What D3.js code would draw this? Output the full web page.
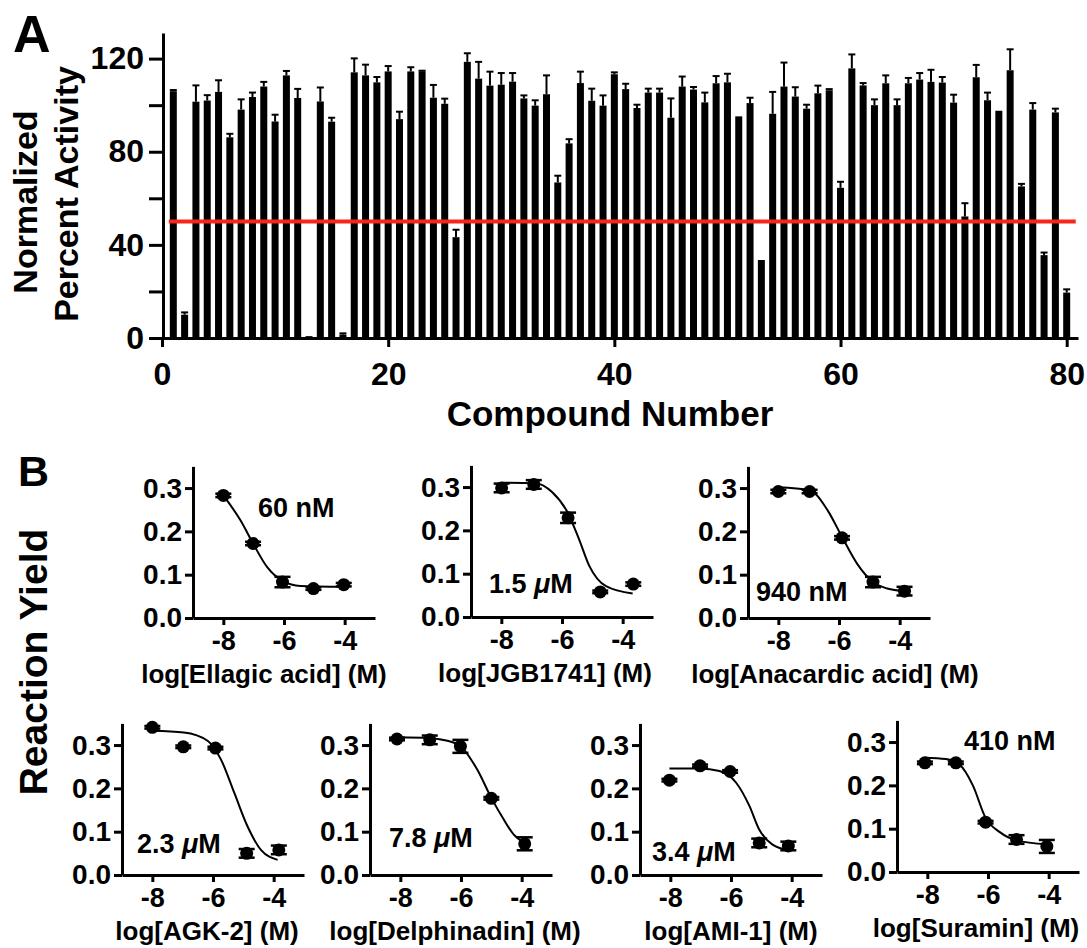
<!DOCTYPE html>
<html>
<head>
<meta charset="utf-8">
<script src="https://cdn.jsdelivr.net/npm/d3@7"></script>
<style>
  body { margin: 0; background: #fff; }
  svg text { font-family: "Liberation Sans", Arial, Helvetica, sans-serif; font-weight: bold; fill: #000; }
</style>
</head>
<body>
<svg id="figure" width="1087" height="948"></svg>
<script>
// ---- Panel A: screening, one bar per compound (compound number = index + 1)
var activity = [
  106, 10, 101.5, 102, 105.7, 86.2, 98.1, 103.5, 108, 93,
  112.8, 103.1, 0.8, 101.6, 92.9, 1.5, 114.1, 112.8, 109.8, 114.5,
  94, 114.5, 114.5, 103.2, 100.6, 43.3, 118.6, 111.4, 108.4, 108.8,
  110.1, 102.9, 99.8, 104.7, 66.8, 83.6, 109.5, 101.9, 99.8, 113.3,
  106.9, 98.8, 105.4, 105.4, 94.6, 108, 106.7, 101.2, 109.4, 109.8,
  95.2, 100.9, 33.5, 96.3, 108, 103.7, 98.5, 105.1, 106.4, 64.5,
  115.8, 108.5, 100, 109.4, 100, 109.4, 111, 110, 109.7, 101.1,
  52.2, 112, 102.1, 97.6, 115, 65.1, 98.1, 35.6, 96.9, 19.5
];
var activityErr = [
  0.5, 1, 7, 2.3, 5, 1.5, 4.4, 1.9, 2, 2.9,
  1.9, 3.9, 0, 6, 1.7, 0.5, 6, 4.6, 2.3, 2.3,
  3.2, 1.8, 0.3, 5.5, 2.2, 3.2, 3.7, 7.2, 6, 5,
  3.7, 1.3, 2.3, 8.1, 2.9, 1.8, 4.9, 5.2, 4.4, 0.8,
  2.3, 1.4, 1.7, 1.7, 8.3, 4.3, 1.1, 4.2, 3.1, 3.7,
  0, 2.3, 0, 9.4, 10.3, 4, 1.7, 3.3, 0.5, 2.6,
  6, 1, 2.5, 3.4, 2.5, 2.3, 2.8, 5.2, 2.4, 3.4,
  5.7, 5.3, 3.3, 0, 9, 1.1, 2.8, 1.1, 1.6, 1.4
];
var cutoff = 50;
var yTicksA = [0, 20, 40, 60, 80, 100, 120];
var yLabelsA = [0, 40, 80, 120];
var xTicksA = [0, 20, 40, 60, 80];

// ---- Panel B: dose response curves
var compoundNames = ["Ellagic acid", "JGB1741", "Anacardic acid", "AGK-2", "Delphinadin", "AMI-1", "Suramin"];
var ic50Labels = ["60 nM", "1.5 \u03bcM", "940 nM", "2.3 \u03bcM", "7.8 \u03bcM", "3.4 \u03bcM", "410 nM"];
var doseLog = [
  [-8, -7.02, -6.05, -5.03, -4.03],
  [-7.99, -6.93, -5.8, -4.74, -3.65],
  [-8, -6.97, -5.9, -4.88, -3.84],
  [-8, -6.98, -5.92, -4.89, -3.83],
  [-8.11, -7.03, -6.02, -5.0, -3.9],
  [-8.03, -7.02, -6.03, -5.07, -4.11],
  [-8.08, -7.06, -6.08, -5.06, -4.06]
];
var yieldMean = [
  [0.283, 0.172, 0.083, 0.068, 0.077],
  [0.298, 0.306, 0.229, 0.058, 0.076],
  [0.292, 0.292, 0.185, 0.083, 0.062],
  [0.341, 0.296, 0.293, 0.05, 0.058],
  [0.314, 0.312, 0.297, 0.177, 0.072],
  [0.219, 0.252, 0.239, 0.074, 0.067],
  [0.252, 0.252, 0.115, 0.075, 0.059]
];
var yieldErr = [
  [0.004, 0.004, 0.012, 0.003, 0.004],
  [0.01, 0.01, 0.012, 0.003, 0.004],
  [0.004, 0.004, 0.004, 0.012, 0.01],
  [0.003, 0.003, 0.003, 0.01, 0.01],
  [0.003, 0.01, 0.015, 0.003, 0.015],
  [0.003, 0.003, 0.003, 0.01, 0.01],
  [0.003, 0.003, 0.003, 0.01, 0.015]
];
// fitted curves
var fitX = [
  [-8, -7.43, -7.02, -6.56, -6.03, -5.46, -4.04],
  [-8, -6.87, -6.32, -5.82, -5.44, -5.1, -4.55, -3.67],
  [-8, -6.97, -6.37, -5.9, -5.4, -4.88, -4.41, -3.84],
  [-8, -6.96, -6.18, -5.74, -5.3, -4.86, -4.42, -3.87],
  [-8.11, -7.03, -6.45, -6.02, -5.47, -5.0, -4.59, -4.26, -3.9],
  [-8.03, -7.02, -6.38, -5.83, -5.39, -5.07, -4.63, -4.08],
  [-8.08, -7.39, -6.94, -6.5, -6.08, -5.61, -5.06, -4.06]
];
var fitY = [
  [0.283, 0.225, 0.172, 0.118, 0.085, 0.074, 0.072],
  [0.31, 0.309, 0.288, 0.242, 0.18, 0.118, 0.071, 0.054],
  [0.302, 0.295, 0.248, 0.187, 0.125, 0.083, 0.068, 0.062],
  [0.333, 0.329, 0.31, 0.267, 0.19, 0.112, 0.058, 0.035],
  [0.318, 0.316, 0.31, 0.298, 0.244, 0.178, 0.128, 0.093, 0.074],
  [0.246, 0.246, 0.24, 0.213, 0.159, 0.105, 0.07, 0.057],
  [0.264, 0.261, 0.248, 0.2, 0.125, 0.092, 0.073, 0.064]
];
var doseTicks = [-8, -6, -4];
var yieldTicks = [0, 0.1, 0.2, 0.3];

// where each small plot sits (y axis x, x axis y, title centre, IC50 label spot)
var panelLayout = [
  { ox: 193, oy: 618, titleX: 264, annX: 258, annY: 517 },
  { ox: 471, oy: 617, titleX: 545, annX: 489, annY: 593 },
  { ox: 748, oy: 618, titleX: 835, annX: 756, annY: 601 },
  { ox: 122, oy: 875, titleX: 207, annX: 137, annY: 853 },
  { ox: 370, oy: 875, titleX: 455, annX: 389, annY: 847 },
  { ox: 640, oy: 875, titleX: 731, annX: 652, annY: 861 },
  { ox: 897, oy: 872, titleX: 976, annX: 964, annY: 750 }
];

var svg = d3.select("#figure");

function styleAxis(g, fontSize) {
  g.select(".domain").attr("stroke", "#000").attr("stroke-width", 3);
  g.selectAll(".tick line").attr("stroke", "#000").attr("stroke-width", 3);
  g.selectAll(".tick text")
    .attr("fill", "#000")
    .style("font-size", fontSize + "px")
    .style("font-family", "'Liberation Sans', Arial, sans-serif")
    .style("font-weight", "bold");
}

function drawPanelA() {
  var xA = d3.scaleLinear().domain([0, 81]).range([162, 1078]);
  var yA = d3.scaleLinear().domain([0, 131]).range([338, 33]);
  var barW = 7;
  var g = svg.append("g");

  var bars = activity.map(function (v, i) {
    return { n: i + 1, v: v, e: activityErr[i] };
  });

  g.selectAll("rect.bar")
    .data(bars)
    .enter()
    .append("rect")
    .attr("class", "bar")
    .attr("x", function (d) { return xA(d.n) - barW / 2; })
    .attr("y", function (d) { return yA(d.v); })
    .attr("width", barW)
    .attr("height", function (d) { return yA(0) - yA(d.v); })
    .attr("fill", "#000");

  // error bars (upper half only, lower half is hidden by the bar)
  var eb = g.selectAll("g.err")
    .data(bars.filter(function (d) { return d.e > 0; }))
    .enter()
    .append("g")
    .attr("class", "err");
  eb.append("line")
    .attr("x1", function (d) { return xA(d.n); })
    .attr("x2", function (d) { return xA(d.n); })
    .attr("y1", function (d) { return yA(d.v); })
    .attr("y2", function (d) { return yA(d.v + d.e); })
    .attr("stroke", "#000").attr("stroke-width", 2);
  eb.append("line")
    .attr("x1", function (d) { return xA(d.n) - barW / 2; })
    .attr("x2", function (d) { return xA(d.n) + barW / 2; })
    .attr("y1", function (d) { return yA(d.v + d.e); })
    .attr("y2", function (d) { return yA(d.v + d.e); })
    .attr("stroke", "#000").attr("stroke-width", 2);

  // 50% cutoff line
  g.append("line")
    .attr("x1", xA(0.6)).attr("x2", xA(80.8))
    .attr("y1", yA(cutoff)).attr("y2", yA(cutoff))
    .attr("stroke", "#f5261b").attr("stroke-width", 4);

  var yAxis = g.append("g")
    .attr("transform", "translate(" + (xA(0) + 1) + ",0)")
    .call(d3.axisLeft(yA).tickValues(yTicksA).tickSize(14).tickPadding(5).tickSizeOuter(0)
      .tickFormat(function (d) { return yLabelsA.indexOf(d) >= 0 ? d : ""; }));
  styleAxis(yAxis, 32);

  var xAxis = g.append("g")
    .attr("transform", "translate(0," + yA(0) + ")")
    .call(d3.axisBottom(xA).tickValues(xTicksA).tickSize(9).tickPadding(15).tickSizeOuter(0));
  styleAxis(xAxis, 32);

  g.append("text").attr("x", 13).attr("y", 52).style("font-size", "52px").text("A");

  g.append("text")
    .attr("transform", "translate(37,202) rotate(-90)")
    .attr("text-anchor", "middle")
    .style("font-size", "34px")
    .text("Normalized");
  g.append("text")
    .attr("transform", "translate(78,194) rotate(-90)")
    .attr("text-anchor", "middle")
    .style("font-size", "34px")
    .text("Percent Activity");

  g.append("text")
    .attr("x", 610).attr("y", 426)
    .attr("text-anchor", "middle")
    .style("font-size", "35px")
    .text("Compound Number");
}

function drawDose(k) {
  var L = panelLayout[k];
  var x = d3.scaleLinear().domain([-9, -3]).range([L.ox, L.ox + 182]);
  var y = d3.scaleLinear().domain([0, 0.35]).range([L.oy, L.oy - 151.6]);
  var g = svg.append("g");

  var yAx = g.append("g")
    .attr("transform", "translate(" + L.ox + ",0)")
    .call(d3.axisLeft(y).tickValues(yieldTicks).tickSize(8).tickPadding(3).tickSizeOuter(0)
      .tickFormat(d3.format(".1f")));
  styleAxis(yAx, 28);

  var xAx = g.append("g")
    .attr("transform", "translate(0," + L.oy + ")")
    .call(d3.axisBottom(x).tickValues(doseTicks).tickSize(7).tickPadding(6).tickSizeOuter(0)
      .tickFormat(function (d) { return String(d); }));
  styleAxis(xAx, 27);

  var curve = fitX[k].map(function (v, i) { return [v, fitY[k][i]]; });
  g.append("path")
    .datum(curve)
    .attr("fill", "none")
    .attr("stroke", "#000")
    .attr("stroke-width", 2)
    .attr("d", d3.line()
      .x(function (d) { return x(d[0]); })
      .y(function (d) { return y(d[1]); })
      .curve(d3.curveMonotoneX));

  var pts = doseLog[k].map(function (v, i) {
    return { x: v, m: yieldMean[k][i], e: yieldErr[k][i] };
  });
  var eg = g.selectAll("g.eb").data(pts).enter().append("g");
  eg.append("line")
    .attr("x1", function (d) { return x(d.x); }).attr("x2", function (d) { return x(d.x); })
    .attr("y1", function (d) { return y(d.m - d.e); }).attr("y2", function (d) { return y(d.m + d.e); })
    .attr("stroke", "#000").attr("stroke-width", 2.5);
  [-1, 1].forEach(function (s) {
    eg.append("line")
      .attr("x1", function (d) { return x(d.x) - 8; }).attr("x2", function (d) { return x(d.x) + 8; })
      .attr("y1", function (d) { return y(d.m + s * d.e); }).attr("y2", function (d) { return y(d.m + s * d.e); })
      .attr("stroke", "#000").attr("stroke-width", 2.5);
  });
  g.selectAll("circle").data(pts).enter().append("circle")
    .attr("cx", function (d) { return x(d.x); })
    .attr("cy", function (d) { return y(d.m); })
    .attr("r", 6.5)
    .attr("fill", "#000");

  // IC50 label, the mu is set in italics
  var parts = ic50Labels[k].split("\u03bc");
  var t = g.append("text").attr("x", L.annX).attr("y", L.annY).style("font-size", "27px");
  t.append("tspan").text(parts[0]);
  if (parts.length > 1) {
    t.append("tspan").style("font-style", "italic").text("\u03bc");
    t.append("tspan").text(parts[1]);
  }

  g.append("text")
    .attr("x", L.titleX).attr("y", L.oy + 65)
    .attr("text-anchor", "middle")
    .style("font-size", "26px")
    .text("log[" + compoundNames[k] + "] (M)");
}

drawPanelA();
for (var k = 0; k < compoundNames.length; k++) {
  drawDose(k);
}

svg.append("text").attr("x", 18).attr("y", 486).style("font-size", "43px").text("B");
svg.append("text")
  .attr("transform", "translate(47,662) rotate(-90)")
  .attr("text-anchor", "middle")
  .style("font-size", "39px")
  .text("Reaction Yield");
</script>
</body>
</html>
